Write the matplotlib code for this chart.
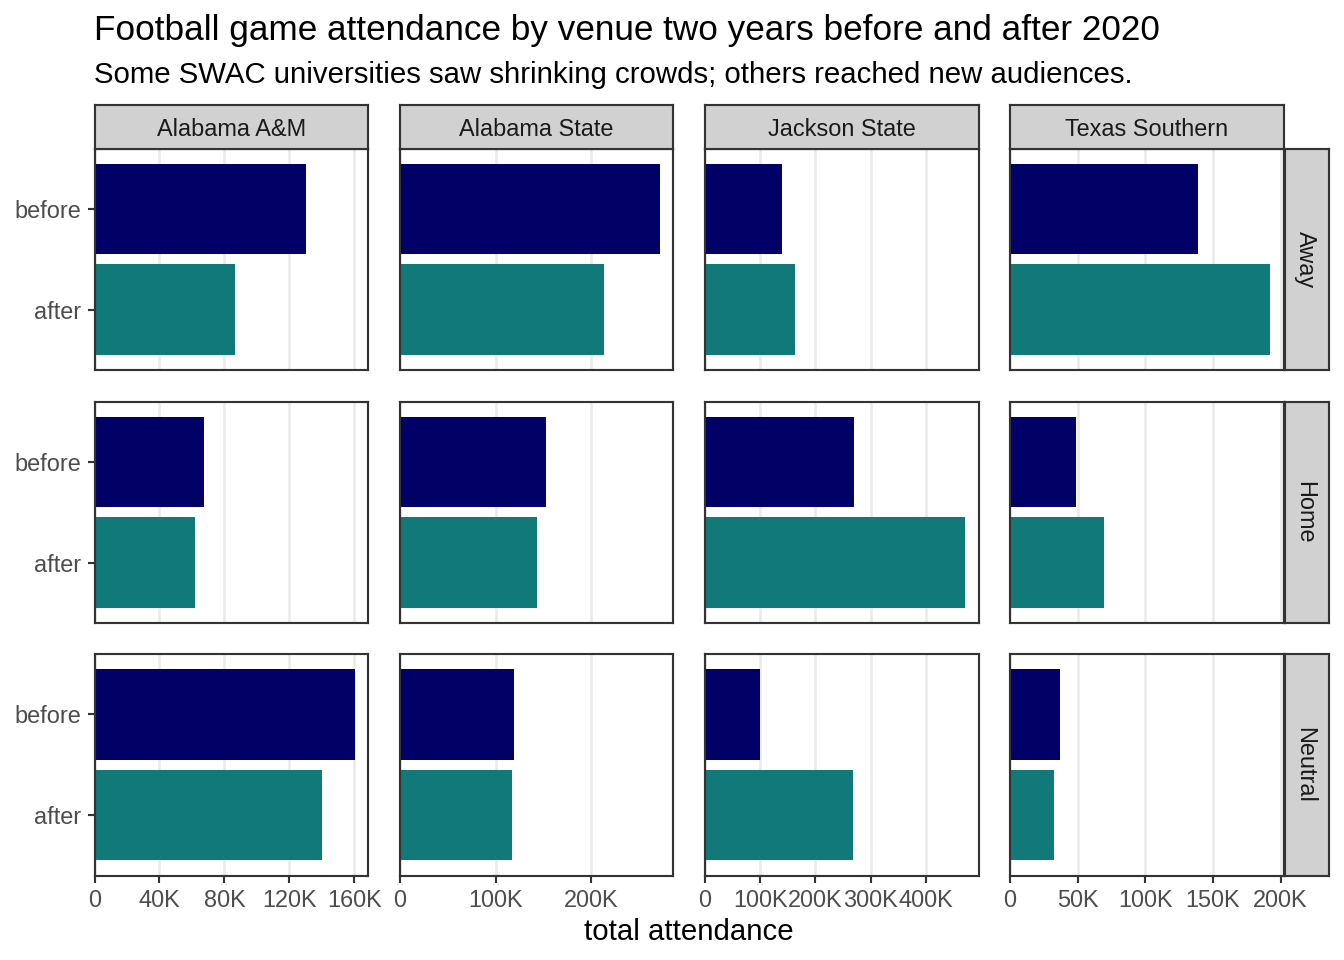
import matplotlib
matplotlib.use("Agg")
import matplotlib.pyplot as plt
from matplotlib.ticker import FuncFormatter, FixedLocator

plt.rcParams['font.family'] = ['Liberation Sans', 'DejaVu Sans']

# ---------------- data ----------------
universities = ["Alabama A&M", "Alabama State", "Jackson State", "Texas Southern"]
venues = ["Away", "Home", "Neutral"]
periods = ["before", "after"]

before_away = [130200, 271900, 139000, 138600]
after_away = [86700, 213600, 162500, 192500]
before_home = [67100, 153000, 270000, 48800]
after_home = [61700, 143000, 472000, 69400]
before_neutral = [160300, 118800, 100200, 36900]
after_neutral = [140100, 116800, 268000, 32500]

x_ticks = [
    [0, 40000, 80000, 120000, 160000],
    [0, 100000, 200000],
    [0, 100000, 200000, 300000, 400000],
    [0, 50000, 100000, 150000, 200000],
]

title = "Football game attendance by venue two years before and after 2020"
subtitle = "Some SWAC universities saw shrinking crowds; others reached new audiences."
x_label = "total attendance"

# ---------------- style ----------------
col_before = "#000066"
col_after = "#117A78"
strip_fill = "#D1D1D1"
border_col = "#333333"
grid_col = "#EBEBEB"
tick_txt_col = "#4D4D4D"

W, H = 1344, 960
fig = plt.figure(figsize=(7, 5), dpi=192)

col_lefts = [94.5, 399.8, 705.0, 1010.0]
panel_w = 273.5
row_tops = [148.5, 401.5, 654.0]
panel_h = 221.5
strip_h = 44.0
strip_w = 43.5

data = {
    "Away": (before_away, after_away),
    "Home": (before_home, after_home),
    "Neutral": (before_neutral, after_neutral),
}

def kfmt(v, pos=None):
    if v == 0:
        return "0"
    return f"{v/1000:g}K"

def fx(px):
    return px / W

def fy(py):
    return 1 - py / H

col_max = []
for j in range(4):
    m = max(max(data[v][0][j], data[v][1][j]) for v in venues)
    col_max.append(m)

for i, venue in enumerate(venues):
    bvals, avals = data[venue]
    for j, uni in enumerate(universities):
        left = col_lefts[j]
        top = row_tops[i]
        ax = fig.add_axes([fx(left), fy(top + panel_h), panel_w / W, panel_h / H])
        ax.set_axisbelow(True)
        ax.barh([2], [bvals[j]], height=0.9, color=col_before, linewidth=0)
        ax.barh([1], [avals[j]], height=0.9, color=col_after, linewidth=0)
        ax.set_xlim(0, col_max[j] * 1.05)
        ax.set_ylim(0.4, 2.6)
        ax.xaxis.set_major_locator(FixedLocator(x_ticks[j]))
        ax.xaxis.set_major_formatter(FuncFormatter(kfmt))
        ax.grid(axis='x', color=grid_col, linewidth=1.0)
        ax.grid(axis='y', visible=False)
        for s in ax.spines.values():
            s.set_color(border_col)
            s.set_linewidth(0.8)
            s.set_zorder(5)
        ax.set_yticks([2, 1])
        if j == 0:
            ax.set_yticklabels(periods)
            ax.tick_params(axis='y', length=2.75, width=0.8, color=border_col,
                           labelsize=8.8, labelcolor=tick_txt_col, pad=2.2)
        else:
            ax.tick_params(axis='y', length=0, labelleft=False)
        if i == len(venues) - 1:
            ax.tick_params(axis='x', length=2.75, width=0.8, color=border_col,
                           labelsize=8.8, labelcolor=tick_txt_col, pad=2.2)
        else:
            ax.tick_params(axis='x', length=0, labelbottom=False)

        # top strips
        if i == 0:
            sax = fig.add_axes([fx(left), fy(top), panel_w / W, strip_h / H])
            sax.set_facecolor(strip_fill)
            sax.set_xticks([]); sax.set_yticks([])
            for s in sax.spines.values():
                s.set_color(border_col); s.set_linewidth(0.8)
            sax.text(0.5, 0.5, uni, ha='center', va='center_baseline', fontsize=8.8,
                     color='#1A1A1A', transform=sax.transAxes)
        # right strips
        if j == 3:
            rax = fig.add_axes([fx(left + panel_w + 1.5), fy(top + panel_h),
                                strip_w / W, panel_h / H])
            rax.set_facecolor(strip_fill)
            rax.set_xticks([]); rax.set_yticks([])
            for s in rax.spines.values():
                s.set_color(border_col); s.set_linewidth(0.8)
            rax.text(0.46, 0.5, venue, ha='center', va='center', fontsize=8.8,
                     color='#1A1A1A', rotation=-90, transform=rax.transAxes)

fig.text(fx(94), fy(40), title, ha='left', va='baseline', fontsize=13.2, color='black')
fig.text(fx(94), fy(83), subtitle, ha='left', va='baseline', fontsize=11, color='black')
fig.text(fx((col_lefts[0] + col_lefts[3] + panel_w) / 2), fy(940), x_label,
         ha='center', va='baseline', fontsize=11, color='black')

fig.savefig("out.png", dpi=192, facecolor='white')
